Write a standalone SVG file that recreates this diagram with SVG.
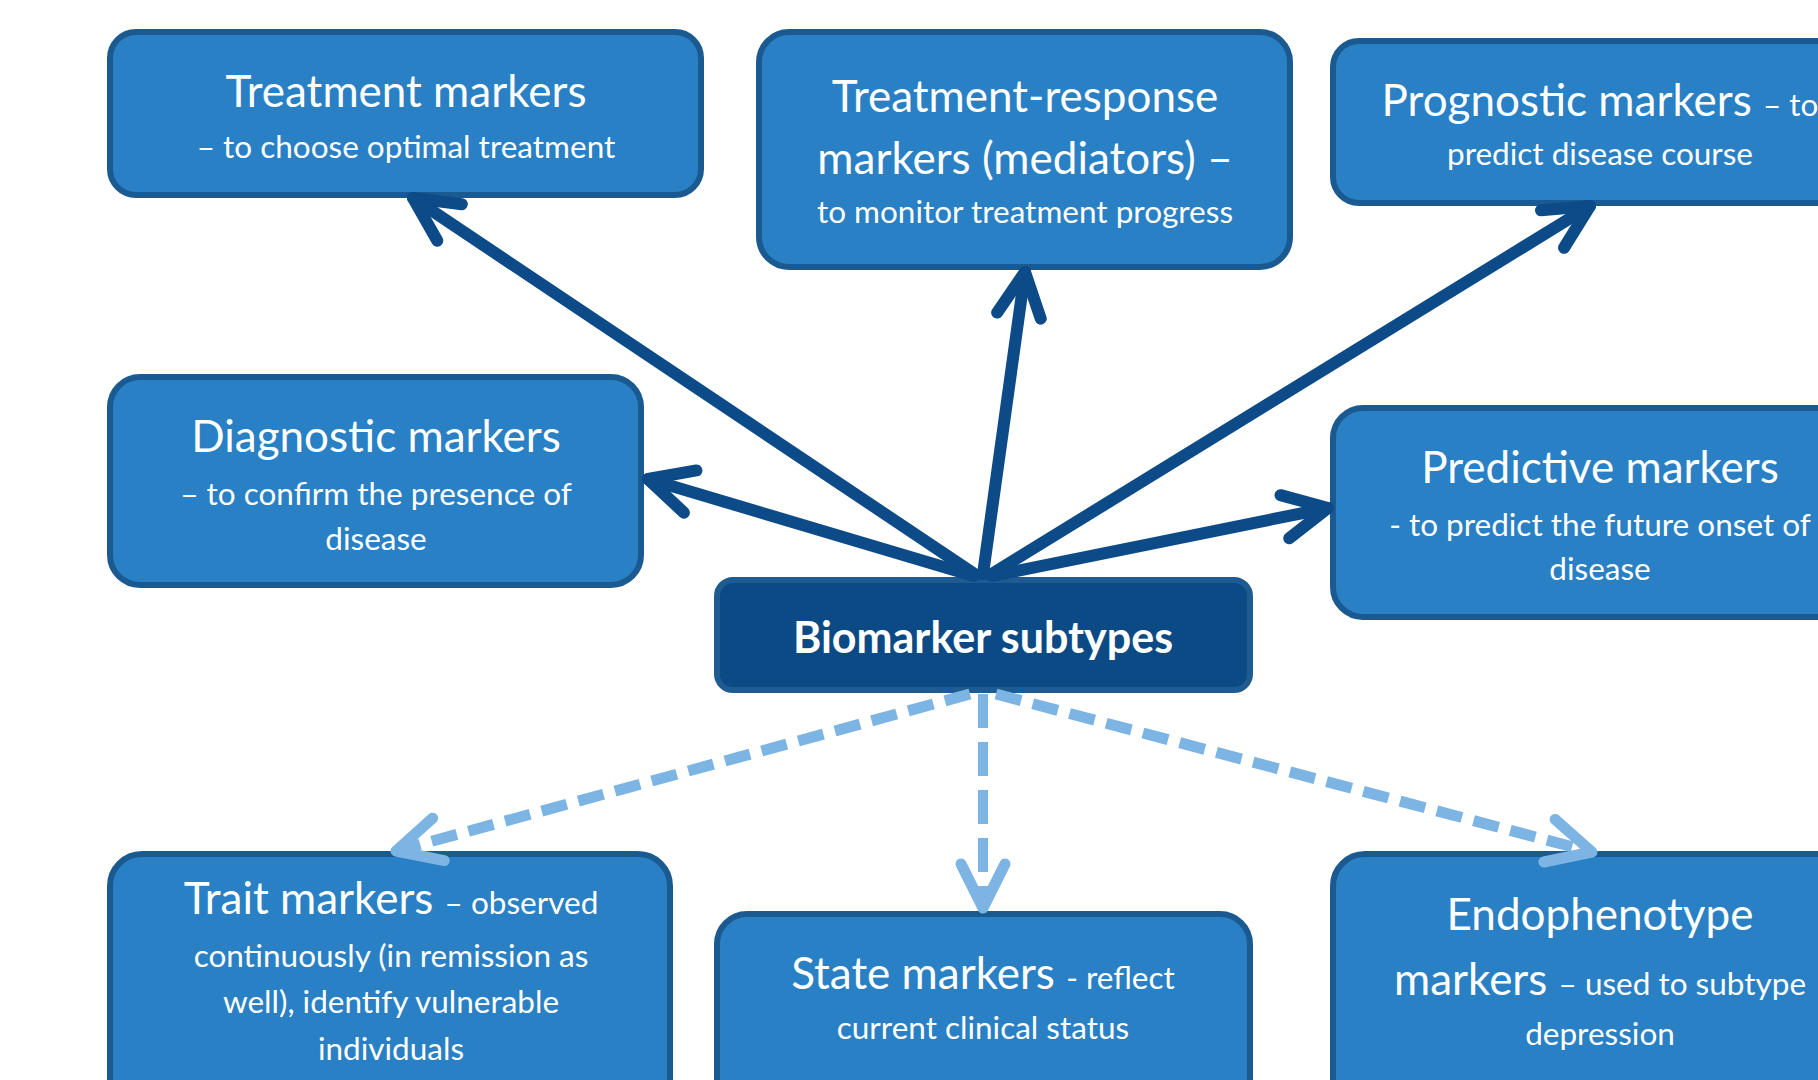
<svg xmlns="http://www.w3.org/2000/svg" width="1818" height="1080" viewBox="0 0 1818 1080">
  <defs>
    <style>
      .box { fill: #2980c4; stroke: #1b5a91; stroke-width: 6; }
      .hub { fill: #0c4a85; stroke: #1e5b90; stroke-width: 6; }
      .t { font-family: Lato, "Open Sans", sans-serif; fill: #ffffff; text-anchor: middle; }
      .lg { font-size: 44px; }
      .sm { font-size: 31.5px; }
      .hubtxt { font-size: 43px; font-weight: bold; }
      .solid { fill: none; stroke: #0d4b88; stroke-width: 12; stroke-linecap: round; }
      .dash { fill: none; stroke: #7cb4e4; stroke-width: 11; stroke-dasharray: 26 12; }
      .dashv { fill: none; stroke: #7cb4e4; stroke-width: 10; stroke-dasharray: 34 14; }
    </style>
    <marker id="headSolid" markerUnits="userSpaceOnUse" markerWidth="70" markerHeight="70" refX="0" refY="0" viewBox="-60 -35 70 70" orient="auto" overflow="visible">
      <path d="M -44 -22 L 0 0 L -44 22" fill="none" stroke="#0d4b88" stroke-width="12" stroke-linecap="round" stroke-linejoin="round"/>
    </marker>
    <marker id="headDash" markerUnits="userSpaceOnUse" markerWidth="70" markerHeight="70" refX="0" refY="0" viewBox="-60 -35 70 70" orient="auto" overflow="visible">
      <path d="M -44 -22 L 0 0 L -44 22" fill="none" stroke="#7cb4e4" stroke-width="11" stroke-linecap="round" stroke-linejoin="round"/>
    </marker>
  </defs>

  <rect width="1818" height="1080" fill="#ffffff"/>

  <!-- upper row -->
  <g id="treatment">
    <rect class="box" x="110" y="32" width="591" height="163" rx="26"/>
    <text class="t lg" x="406" y="107">Treatment markers</text>
    <text class="t sm" x="406" y="158">– to choose optimal treatment</text>
  </g>

  <g id="treatment-response">
    <rect class="box" x="759" y="32" width="531" height="235" rx="30"/>
    <text class="t lg" x="1025" y="112">Treatment-response</text>
    <text class="t lg" x="1025" y="174">markers (mediators) –</text>
    <text class="t sm" x="1025" y="223">to monitor treatment progress</text>
  </g>

  <g id="prognostic">
    <rect class="box" x="1333" y="41" width="540" height="162" rx="26"/>
    <text class="t" x="1600" y="116"><tspan class="lg">Prognostic markers </tspan><tspan class="sm">– to</tspan></text>
    <text class="t sm" x="1600" y="165">predict disease course</text>
  </g>

  <!-- middle row -->
  <g id="diagnostic">
    <rect class="box" x="110" y="377" width="531" height="208" rx="30"/>
    <text class="t lg" x="376" y="452">Diagnostic markers</text>
    <text class="t sm" x="376" y="505">– to confirm the presence of</text>
    <text class="t sm" x="376" y="550">disease</text>
  </g>

  <g id="predictive">
    <rect class="box" x="1333" y="408" width="540" height="209" rx="30"/>
    <text class="t lg" x="1600" y="483">Predictive markers</text>
    <text class="t sm" x="1600" y="536">- to predict the future onset of</text>
    <text class="t sm" x="1600" y="580">disease</text>
  </g>

  <g id="biomarker-subtypes">
    <rect class="hub" x="717" y="580" width="533" height="110" rx="16"/>
    <text class="t hubtxt" x="983" y="653">Biomarker subtypes</text>
  </g>

  <!-- lower row -->
  <g id="trait">
    <rect class="box" x="110" y="854" width="560" height="260" rx="32"/>
    <text class="t" x="391" y="914"><tspan class="lg">Trait markers </tspan><tspan class="sm">– observed</tspan></text>
    <text class="t sm" x="391" y="967">continuously (in remission as</text>
    <text class="t sm" x="391" y="1013">well), identify vulnerable</text>
    <text class="t sm" x="391" y="1060">individuals</text>
  </g>

  <g id="state">
    <rect class="box" x="717" y="914" width="533" height="200" rx="30"/>
    <text class="t" x="983" y="989"><tspan class="lg">State markers </tspan><tspan class="sm">- reflect</tspan></text>
    <text class="t sm" x="983" y="1039">current clinical status</text>
  </g>

  <g id="endophenotype">
    <rect class="box" x="1333" y="854" width="540" height="260" rx="32"/>
    <text class="t lg" x="1600" y="930">Endophenotype</text>
    <text class="t" x="1600" y="995"><tspan class="lg">markers </tspan><tspan class="sm">– used to subtype</tspan></text>
    <text class="t sm" x="1600" y="1045">depression</text>
  </g>

  <!-- connectors -->
  <g id="connectors">
    <path class="solid" d="M 976 575 L 413 198" marker-end="url(#headSolid)"/>
    <path class="solid" d="M 983 574 L 1025 272" marker-end="url(#headSolid)"/>
    <path class="solid" d="M 990 575 L 1590 206" marker-end="url(#headSolid)"/>
    <path class="solid" d="M 974 576 L 648 479" marker-end="url(#headSolid)"/>
    <path class="solid" d="M 992 576 L 1328 508" marker-end="url(#headSolid)"/>
    <path class="dash" d="M 970 694 L 396 851" marker-end="url(#headDash)"/>
    <path class="dashv" d="M 983 694 L 983 908" marker-end="url(#headDash)"/>
    <path class="dash" d="M 996 694 L 1592 852" marker-end="url(#headDash)"/>
  </g>
</svg>
